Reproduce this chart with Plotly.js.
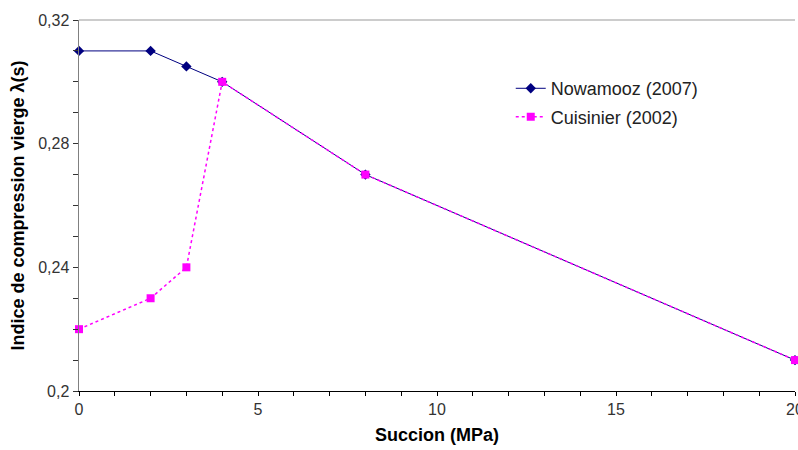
<!DOCTYPE html>
<html>
<head>
<meta charset="utf-8">
<script src="https://cdn.plot.ly/plotly-3.0.1.min.js"></script>
<style>html,body{margin:0;padding:0;background:#fff;}#chart{width:798px;height:450px;}</style>
</head>
<body>
<div id="chart"></div>
<script>
const succion = [0, 2, 3, 4, 8, 20];
const nowamooz = [0.31, 0.31, 0.305, 0.30, 0.27, 0.21];
const cuisinier = [0.22, 0.23, 0.24, 0.30, 0.27, 0.21];
const seriesNames = ["Nowamooz (2007)", "Cuisinier (2002)"];

const traces = [
  {
    x: succion, y: nowamooz, name: seriesNames[0], legendgroup: "a", type: "scatter", mode: "lines+markers",
    line: {color: "#000080", width: 1},
    marker: {symbol: "diamond", size: 8, color: "#000080"},
    cliponaxis: false
  },
  {
    x: succion, y: cuisinier, name: seriesNames[1], legendgroup: "b", type: "scatter", mode: "lines+markers",
    line: {color: "#FF00FF", width: 1.5, dash: "dot"},
    marker: {symbol: "square", size: 8, color: "#FF00FF"},
    cliponaxis: false
  }
];

const layout = {
  width: 798, height: 450,
  margin: {l: 79, r: 3, t: 20, b: 59},
  separators: ", ",
  paper_bgcolor: "#fff", plot_bgcolor: "#fff",
  font: {family: "Liberation Sans, Arial, sans-serif", size: 14, color: "#333"},
  showlegend: true,
  legend: {
    x: 0.603, y: 0.865, xanchor: "left", yanchor: "top",
    bgcolor: "rgba(0,0,0,0)", font: {size: 18, color: "#222"},
    tracegroupgap: 2
  },
  xaxis: {
    range: [0, 20], tick0: 0, dtick: 5,
    ticks: "outside", ticklen: 4, tickcolor: "#000",
    minor: {dtick: 1, ticks: "outside", ticklen: 4, tickcolor: "#000"},
    showgrid: false, zeroline: false,
    showline: true, linecolor: "#000", linewidth: 1,
    ticklabeloverflow: "allow",
    tickfont: {size: 16, color: "#333"},
    title: {text: "Succion (MPa)", font: {size: 18, color: "#000", family: "Liberation Sans, Arial, sans-serif", weight: "bold"}, standoff: 11}
  },
  yaxis: {
    range: [0.2, 0.32], tick0: 0.2, dtick: 0.04,
    ticks: "outside", ticklen: 5, tickcolor: "#333",
    minor: {dtick: 0.01, ticks: "outside", ticklen: 5, tickcolor: "#333"},
    showgrid: false, zeroline: false,
    showline: true, linecolor: "#808080", linewidth: 1.5,
    tickfont: {size: 16, color: "#333"},
    title: {text: "Indice de compression vierge λ(s)", font: {size: 18, color: "#000", family: "Liberation Sans, Arial, sans-serif", weight: "bold"}, standoff: 9}
  },
  shapes: [
    {type: "line", xref: "paper", yref: "paper", x0: 0, x1: 1, y0: 1, y1: 1, line: {color: "#999", width: 1}}
  ]
};

Plotly.newPlot("chart", traces, layout, {displayModeBar: false, staticPlot: true});
</script>
</body>
</html>
